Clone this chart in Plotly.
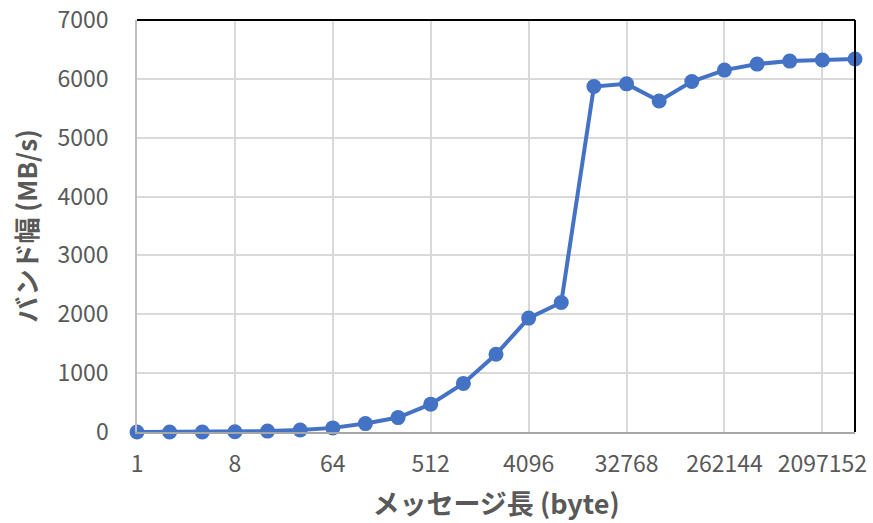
import plotly.graph_objects as go

sizes = ["1", "2", "4", "8", "16", "32", "64", "128", "256", "512", "1024", "2048",
         "4096", "8192", "16384", "32768", "65536", "131072", "262144", "524288",
         "1048576", "2097152", "4194304"]
bandwidth = [0, 0, 1, 3, 15, 35, 70, 143, 245, 473, 826, 1321, 1935, 2201,
             5869, 5915, 5624, 5954, 6149, 6251, 6302, 6320, 6337]
tick_labels = ["1", "8", "64", "512", "4096", "32768", "262144", "2097152"]

FONT = "Noto Sans CJK JP, Noto Sans, sans-serif"
GRAY = "#595959"

fig = go.Figure(go.Scatter(
    x=sizes, y=bandwidth, mode="lines+markers",
    line=dict(color="#4472C4", width=4),
    marker=dict(color="#4472C4", size=15),
    cliponaxis=False,
))

fig.update_layout(
    width=873, height=523,
    margin=dict(l=137, r=18, t=20, b=91, autoexpand=False),
    plot_bgcolor="white", paper_bgcolor="white",
    showlegend=False,
    font=dict(family=FONT, color=GRAY, size=23),
    shapes=[
        dict(type="line", xref="paper", yref="paper", x0=0, x1=1, y0=1, y1=1,
             line=dict(color="black", width=2)),
        dict(type="line", xref="paper", yref="paper", x0=1, x1=1, y0=0, y1=1,
             line=dict(color="black", width=2)),
    ],
)

fig.update_xaxes(
    type="category", range=[0, len(sizes) - 1],
    tickmode="array", tickvals=tick_labels, ticktext=tick_labels,
    showgrid=True, gridcolor="#D9D9D9", gridwidth=1.5,
    showline=True, linecolor="#A6A6A6", linewidth=1.5,
    ticks="", ticklabelstandoff=11, automargin=False,
    tickfont=dict(size=23, color=GRAY, family=FONT),
    title=dict(text="メッセージ長 (byte)", standoff=17,
               font=dict(size=27, color=GRAY, family=FONT, weight="bold")),
)

fig.update_yaxes(
    range=[0, 7000], tickmode="linear", tick0=0, dtick=1000,
    showgrid=True, gridcolor="#D9D9D9", gridwidth=1.5,
    showline=True, linecolor="#BFBFBF", linewidth=1.5,
    zeroline=False, automargin=False,
    ticks="", ticklabelstandoff=22,
    tickfont=dict(size=23, color=GRAY, family=FONT),
    title=dict(text="バンド幅 (MB/s)", standoff=12,
               font=dict(size=26, color=GRAY, family=FONT, weight="bold")),
)

fig.write_html("out.html", config={"displayModeBar": False},
               post_script="document.body.style.margin='0';")
